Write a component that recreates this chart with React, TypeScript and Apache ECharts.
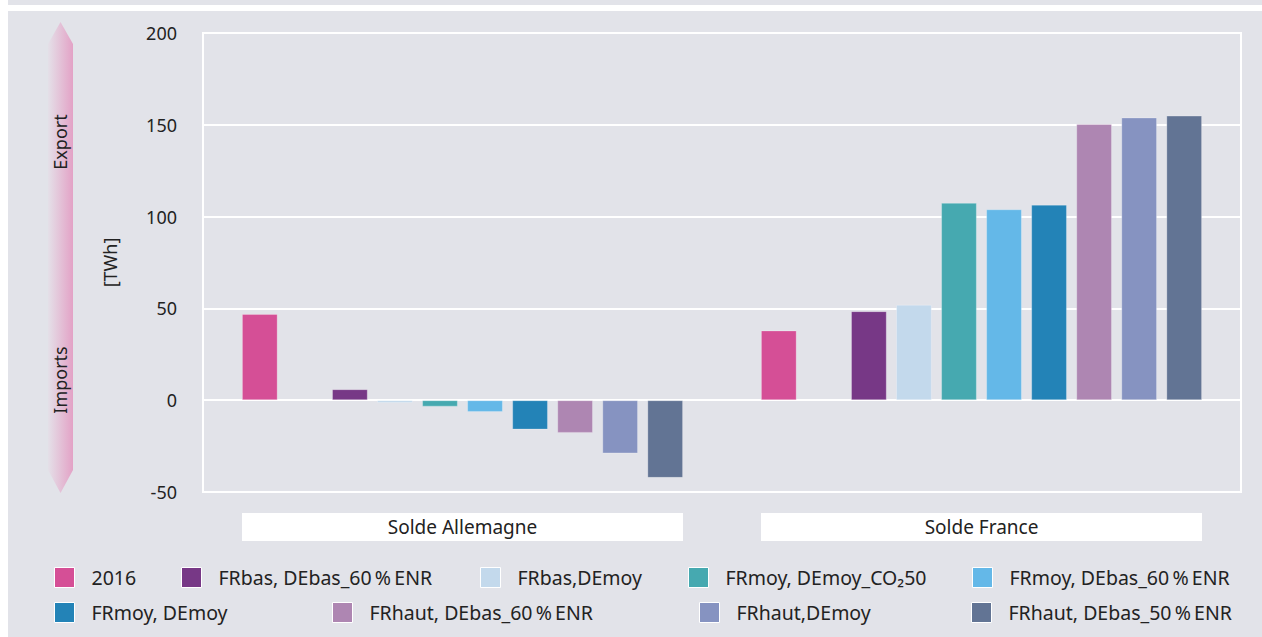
import React, { useEffect, useRef } from "react";
import * as echarts from "echarts";

const categories = ["Solde Allemagne", "Solde France"];
const seriesNames = [
  "2016",
  "",
  "FRbas, DEbas_60\u202F%\u202FENR",
  "FRbas,DEmoy",
  "FRmoy, DEmoy_CO\u208250",
  "FRmoy, DEbas_60\u202F%\u202FENR",
  "FRmoy, DEmoy",
  "FRhaut, DEbas_60\u202F%\u202FENR",
  "FRhaut,DEmoy",
  "FRhaut, DEbas_50\u202F%\u202FENR",
];
const seriesColors = [
  "#d54f96",
  "#000000",
  "#773886",
  "#c3d9ec",
  "#46a9b0",
  "#64b8e8",
  "#2383b7",
  "#ae86b2",
  "#8693c1",
  "#627494",
];
const values2016 = [47, 38];
const valuesGap = [null, null];
const valuesFRbasDEbas60 = [6, 48.5];
const valuesFRbasDEmoy = [-1.5, 52];
const valuesFRmoyDEmoyCO2 = [-3.5, 107.5];
const valuesFRmoyDEbas60 = [-6.4, 104];
const valuesFRmoyDEmoy = [-16, 106.5];
const valuesFRhautDEbas60 = [-17.8, 150.5];
const valuesFRhautDEmoy = [-29, 154];
const valuesFRhautDEbas50 = [-42.3, 155];
const seriesValues = [
  values2016,
  valuesGap,
  valuesFRbasDEbas60,
  valuesFRbasDEmoy,
  valuesFRmoyDEmoyCO2,
  valuesFRmoyDEbas60,
  valuesFRmoyDEmoy,
  valuesFRhautDEbas60,
  valuesFRhautDEmoy,
  valuesFRhautDEbas50,
];
const yTicks = { min: -50, max: 200, interval: 50 };

// legend layout: [seriesIndex, left, top]
const legendLayout: [number, number, number][] = [
  [0, 54, 567],
  [2, 181, 567],
  [3, 480, 567],
  [4, 688, 567],
  [5, 972, 567],
  [6, 54, 602],
  [7, 332, 602],
  [8, 699, 602],
  [9, 971, 602],
];

const FONT = "'Noto Sans', 'Open Sans', sans-serif";
const BG = "#e2e3e9";
const TXT = "#222222";

export default function App() {
  const ref = useRef<HTMLDivElement>(null);
  useEffect(() => {
    if (!ref.current) return;
    const chart = echarts.init(ref.current, undefined, { renderer: "svg" });
    const option: any = {
      animation: false,
      backgroundColor: BG,
      textStyle: { fontFamily: FONT },
      grid: {
        left: 203,
        right: 21,
        top: 33,
        bottom: 145,
        show: true,
        borderColor: "#ffffff",
        borderWidth: 2,
        backgroundColor: "transparent",
      },
      legend: legendLayout.map(([si, left, top]) => ({
        data: [seriesNames[si]],
        left,
        top,
        padding: 0,
        icon: "rect",
        itemWidth: 20,
        itemHeight: 20,
        itemStyle: { borderColor: "#ffffff", borderWidth: 1 },
        selectedMode: false,
        textStyle: {
          fontFamily: FONT,
          fontSize: 19.5,
          color: TXT,
          padding: [0, 0, 0, 12],
        },
      })),
      xAxis: {
        type: "category",
        data: categories,
        axisLine: { show: false },
        axisTick: { show: false },
        splitLine: { show: false },
        axisLabel: {
          margin: 21,
          fontFamily: FONT,
          fontSize: 19,
          color: TXT,
          backgroundColor: "#ffffff",
          width: 441,
          height: 28,
          lineHeight: 28,
          align: "center",
        },
      },
      yAxis: {
        type: "value",
        min: yTicks.min,
        max: yTicks.max,
        interval: yTicks.interval,
        name: "[TWh]",
        nameLocation: "middle",
        nameGap: 84,
        nameRotate: 90,
        nameTextStyle: { fontFamily: FONT, fontSize: 18, color: TXT },
        axisLine: { show: false },
        axisTick: { show: false },
        axisLabel: { margin: 26, fontFamily: FONT, fontSize: 18, color: TXT },
        splitLine: { lineStyle: { color: "#ffffff", width: 2 } },
      },
      series: seriesValues.map((vals, i) => ({
        type: "bar",
        name: seriesNames[i] || "_gap",
        data: vals,
        barGap: "26%",
        barCategoryGap: "15%",
        itemStyle: {
          color: seriesColors[i],
          borderColor: "rgba(255,255,255,0.25)",
          borderWidth: 1,
        },
      })),
      graphic: [
        { type: "rect", shape: { x: 0, y: 5, width: 1262, height: 6 }, style: { fill: "#ffffff" }, silent: true },
        { type: "rect", shape: { x: 0, y: 0, width: 8, height: 637 }, style: { fill: "#ffffff" }, silent: true },
        {
          type: "polygon",
          shape: {
            points: [
              [60.5, 22],
              [73, 44],
              [73, 470],
              [60.5, 493],
              [48, 470],
              [48, 44],
            ],
          },
          style: {
            fill: {
              type: "linear",
              x: 0,
              y: 0,
              x2: 1,
              y2: 0,
              colorStops: [
                { offset: 0, color: "#e4e0e8" },
                { offset: 1, color: "#e3a2c6" },
              ],
            },
          },
          silent: true,
        },
        {
          type: "text",
          x: 60,
          y: 142,
          rotation: Math.PI / 2,
          style: { text: "Export", fontFamily: FONT, fontSize: 18, fill: TXT, align: "center", verticalAlign: "middle" },
          silent: true,
        },
        {
          type: "text",
          x: 60,
          y: 380,
          rotation: Math.PI / 2,
          style: { text: "Imports", fontFamily: FONT, fontSize: 18, fill: TXT, align: "center", verticalAlign: "middle" },
          silent: true,
        },
      ],
    };
    chart.setOption(option);
    return () => chart.dispose();
  }, []);
  return (
    <div
      ref={ref}
      style={{ position: "absolute", left: 0, top: 0, width: 1262, height: 637 }}
    />
  );
}
